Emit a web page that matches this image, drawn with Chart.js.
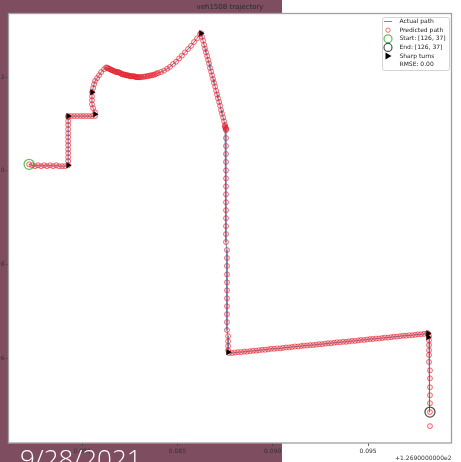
<!DOCTYPE html>
<html><head><meta charset="utf-8">
<script src="https://cdn.jsdelivr.net/npm/chart.js@4.4.1/dist/chart.umd.min.js"></script>
<style>
html,body{margin:0;padding:0;}
body{width:461px;height:462px;background:#7e4d60;position:relative;overflow:hidden;}
#white{position:absolute;left:282px;top:0;width:179px;height:462px;background:#fff;}
#c{position:absolute;left:0;top:0;}
#date{position:absolute;left:20px;top:445px;font:300 26px/26px "Open Sans",sans-serif;color:#fff;white-space:nowrap;}
</style></head><body>
<div id="white"></div>
<canvas id="c" width="461" height="462"></canvas>
<div id="date">9/28/2021</div>
<script>
// longitude offset from 126.9, latitude axis values (offset)
const pathX = [
0.07722,0.07738,0.07753,0.07769,0.07785,0.07801,0.07816,0.07832,0.07848,0.07864,0.07879,0.07895,0.07911,0.07927,
0.07927,0.07927,0.07927,0.07927,0.07927,0.07927,0.07927,0.07927,0.07927,0.07927,0.07927,0.07927,0.07927,
0.07942,0.07958,0.07974,0.07990,0.08005,0.08021,0.08037,0.08052,0.08068,
0.08068,0.08058,0.08052,0.08052,0.08052,0.08052,0.08058,0.08063,0.08068,0.08079,0.08089,0.08100,0.08115,
0.08126,0.08131,0.08136,0.08141,0.08147,0.08152,0.08157,0.08162,0.08168,0.08173,0.08178,0.08184,0.08189,0.08194,0.08199,0.08205,0.08210,0.08215,0.08220,0.08226,0.08231,0.08236,0.08241,0.08247,0.08252,0.08257,0.08262,0.08268,0.08273,0.08278,0.08283,0.08288,0.08294,0.08299,0.08304,
0.08312,0.08320,0.08328,0.08336,0.08344,0.08351,0.08359,0.08367,0.08375,0.08383,0.08391,0.08399,
0.08414,0.08430,0.08446,0.08461,0.08477,0.08493,0.08509,0.08524,0.08540,0.08556,0.08572,0.08587,0.08603,0.08619,0.08624,
0.08629,0.08635,0.08640,0.08645,0.08650,0.08656,0.08661,0.08666,0.08671,0.08677,0.08682,0.08687,0.08692,0.08698,0.08703,0.08708,0.08713,0.08719,0.08724,0.08729,0.08734,0.08740,0.08745,0.08750,
0.08750,0.08750,0.08755,0.08755,0.08755,
0.08755,0.08755,0.08755,0.08755,0.08755,0.08755,0.08755,0.08755,0.08755,0.08755,0.08755,0.08755,0.08755,0.08755,
0.08760,0.08760,0.08760,0.08760,0.08760,0.08760,0.08760,0.08760,0.08760,0.08760,0.08760,
0.08766,0.08766,0.08766,0.08766,
0.08771,
0.08787,0.08802,0.08818,0.08834,0.08850,0.08865,0.08881,0.08897,0.08913,0.08928,
0.08944,0.08960,0.08976,0.08991,0.09007,0.09023,0.09039,0.09054,0.09070,0.09086,
0.09101,0.09117,0.09133,0.09149,0.09164,0.09180,0.09196,0.09212,0.09227,0.09243,
0.09259,0.09275,0.09290,0.09306,0.09322,0.09337,0.09353,0.09369,0.09385,0.09400,
0.09416,0.09432,0.09448,0.09463,0.09479,0.09495,0.09511,0.09526,0.09542,0.09558,
0.09574,0.09589,0.09605,0.09621,0.09636,0.09652,0.09668,0.09684,0.09699,0.09715,
0.09731,0.09747,0.09762,0.09778,0.09794,0.09810,
0.09815,
0.09820,0.09820,0.09820,0.09820,0.09820,0.09820,0.09825,0.09825,0.09825,0.09825,0.09825,0.09825
];
const pathY = [
0.01014,0.01012,0.01010,0.01012,0.01010,0.01012,0.01010,0.01012,0.01010,0.01012,0.01010,0.01010,0.01010,0.01012,
0.01021,0.01029,0.01038,0.01046,0.01055,0.01063,0.01072,0.01080,0.01089,0.01098,0.01106,0.01115,0.01117,
0.01117,0.01117,0.01117,0.01117,0.01117,0.01117,0.01117,0.01117,0.01117,
0.01125,0.01134,0.01142,0.01151,0.01159,0.01168,0.01177,0.01185,0.01192,0.01198,0.01204,0.01211,0.01217,
0.01221,0.01220,0.01219,0.01218,0.01217,0.01216,0.01215,0.01214,0.01213,0.01212,0.01211,0.01211,0.01211,0.01210,0.01209,0.01208,0.01206,0.01206,0.01206,0.01205,0.01204,0.01204,0.01204,0.01203,0.01202,0.01202,0.01202,0.01202,0.01202,0.01201,0.01200,0.01200,0.01200,0.01200,0.01200,
0.01200,0.01201,0.01201,0.01202,0.01202,0.01203,0.01204,0.01204,0.01205,0.01206,0.01208,0.01209,
0.01211,0.01214,0.01218,0.01222,0.01228,0.01233,0.01240,0.01246,0.01253,0.01260,0.01267,0.01275,0.01283,0.01292,0.01294,
0.01286,0.01278,0.01269,0.01261,0.01253,0.01245,0.01237,0.01229,0.01220,0.01212,0.01204,0.01196,0.01188,0.01180,0.01171,0.01163,0.01155,0.01147,0.01139,0.01130,0.01122,0.01114,0.01106,0.01098,
0.01095,0.01093,0.01091,0.01089,0.01087,
0.01070,0.01053,0.01036,0.01019,0.01001,0.00984,0.00967,0.00950,0.00933,0.00916,0.00899,0.00882,0.00865,0.00848,
0.00831,0.00814,0.00797,0.00779,0.00762,0.00745,0.00728,0.00711,0.00694,0.00677,0.00660,
0.00647,0.00636,0.00626,0.00617,
0.00611,
0.00611,0.00612,0.00613,0.00613,0.00614,0.00614,0.00615,0.00616,0.00616,0.00617,
0.00618,0.00618,0.00619,0.00620,0.00620,0.00621,0.00621,0.00622,0.00623,0.00623,
0.00624,0.00625,0.00625,0.00626,0.00627,0.00627,0.00628,0.00628,0.00629,0.00630,
0.00630,0.00631,0.00632,0.00632,0.00633,0.00634,0.00634,0.00635,0.00635,0.00636,
0.00637,0.00637,0.00638,0.00639,0.00639,0.00640,0.00641,0.00641,0.00642,0.00642,
0.00643,0.00644,0.00644,0.00645,0.00646,0.00646,0.00647,0.00648,0.00648,0.00649,
0.00649,0.00650,0.00651,0.00651,0.00652,0.00653,
0.00653,
0.00647,0.00638,0.00628,0.00617,0.00607,0.00592,0.00574,0.00557,0.00538,0.00521,0.00504,0.00485
];
const predExtraX = [0.09825];
const predExtraY = [0.00455];
const startX = [0.07722], startY = [0.01014];
const endX = [0.09825], endY = [0.00485];
const turnX = [0.07927,0.07927,0.08068,0.08052,0.08624,0.08766,0.09815,0.09815];
const turnY = [0.01012,0.01117,0.01121,0.01168,0.01294,0.00613,0.00653,0.00645];
const xTicks = [0.080,0.085,0.090,0.095];
const yTicks = [0.006,0.008,0.010,0.012];
const xOffsetLabel = '+1.2690000000e2';
const chartTitle = 'veh1508 trajectory';
const rmseLabel = 'RMSE: 0.00';
const seriesLabels = ['Actual path','Predicted path','Start: [126, 37]','End: [126, 37]','Sharp turns'];

const pts = (xs, ys) => xs.slice(0, Math.min(xs.length, ys.length)).map((x, i) => ({x, y: ys[i]}));
const predX = pathX.concat(predExtraX), predY = pathY.concat(predExtraY);

const C_LINE = 'rgba(70,125,185,0.85)';
const C_PRED = 'rgba(235,25,35,0.6)';
const C_PRED_FILL = 'rgba(235,25,35,0.1)';
const C_START = 'rgba(40,170,40,0.75)';
const C_END = 'rgba(50,50,50,0.85)';

const deco = {
  id: 'deco',
  beforeDraw(chart) {
    const {ctx, chartArea: a} = chart;
    ctx.save();
    ctx.fillStyle = '#fff';
    ctx.fillRect(a.left, a.top, a.right - a.left, a.bottom - a.top);
    ctx.restore();
  },
  afterDraw(chart) {
    const {ctx, chartArea: a} = chart;
    ctx.save();
    ctx.strokeStyle = '#a0a0a0';
    ctx.lineWidth = 1.3;
    ctx.strokeRect(a.left, a.top, a.right - a.left, a.bottom - a.top);
    ctx.fillStyle = '#333';
    ctx.font = '6px "DejaVu Sans"';
    ctx.textAlign = 'right';
    ctx.textBaseline = 'middle';
    ctx.fillText(xOffsetLabel, a.right, 458);
    const lx = 382.5, ly = 17.5, lw = 67, lh = 53;
    ctx.fillStyle = 'rgba(255,255,255,0.9)';
    ctx.strokeStyle = '#d4d4d4';
    ctx.lineWidth = 1;
    ctx.beginPath();
    ctx.roundRect(lx, ly, lw, lh, 2);
    ctx.fill(); ctx.stroke();
    const rows = [21.5, 30.2, 38.8, 47.4, 56, 64.6];
    const hx = 388;
    ctx.strokeStyle = C_LINE; ctx.lineWidth = 1;
    ctx.beginPath(); ctx.moveTo(384, rows[0]); ctx.lineTo(392, rows[0]); ctx.stroke();
    ctx.strokeStyle = C_PRED; ctx.lineWidth = 1;
    ctx.beginPath(); ctx.arc(hx, rows[1], 2.2, 0, Math.PI * 2); ctx.stroke();
    ctx.strokeStyle = C_START; ctx.lineWidth = 1.2;
    ctx.beginPath(); ctx.arc(hx, rows[2], 4, 0, Math.PI * 2); ctx.stroke();
    ctx.strokeStyle = C_END; ctx.lineWidth = 1.2;
    ctx.beginPath(); ctx.arc(hx, rows[3], 4, 0, Math.PI * 2); ctx.stroke();
    ctx.fillStyle = '#000';
    ctx.beginPath(); ctx.moveTo(hx + 3.5, rows[4]); ctx.lineTo(hx - 2.5, rows[4] - 3.5); ctx.lineTo(hx - 2.5, rows[4] + 3.5); ctx.closePath(); ctx.fill();
    ctx.fillStyle = '#222';
    ctx.textAlign = 'left';
    const texts = seriesLabels.concat([rmseLabel]);
    texts.forEach((t, i) => ctx.fillText(t, 399.5, rows[i]));
    ctx.restore();
  }
};

new Chart(document.getElementById('c'), {
  type: 'scatter',
  data: {
    datasets: [
      {label: seriesLabels[0], data: pts(pathX, pathY), showLine: true, borderColor: C_LINE, borderWidth: 1, pointRadius: 0, order: 4},
      {label: seriesLabels[1], data: pts(predX, predY), showLine: false, pointStyle: 'circle', pointRadius: 2.5, pointBorderWidth: 1, pointBorderColor: C_PRED, pointBackgroundColor: C_PRED_FILL, order: 3},
      {label: seriesLabels[2], data: pts(startX, startY), pointRadius: 5, pointBorderWidth: 1.3, pointBorderColor: C_START, pointBackgroundColor: 'rgba(0,0,0,0)', order: 2},
      {label: seriesLabels[3], data: pts(endX, endY), pointRadius: 5, pointBorderWidth: 1.3, pointBorderColor: C_END, pointBackgroundColor: 'rgba(0,0,0,0)', order: 1},
      {label: seriesLabels[4], data: pts(turnX, turnY), pointStyle: 'triangle', rotation: 90, pointRadius: 3.5, pointBorderWidth: 0, pointBackgroundColor: '#000', pointBorderColor: '#000', order: 0}
    ]
  },
  options: {
    responsive: false,
    animation: false,
    devicePixelRatio: 1,
    layout: {padding: {left: 0, right: 9.5, top: 0, bottom: 0}},
    plugins: {
      legend: {display: false},
      tooltip: {enabled: false},
      title: {display: true, text: chartTitle, color: '#2a2a2a', fullSize: false,
        font: {family: 'DejaVu Sans', size: 7, weight: 'normal'}, padding: {top: 2.5, bottom: 2.6}}
    },
    scales: {
      x: {
        type: 'linear', min: 0.07614, max: 0.09938,
        afterFit(s) { s.height = 19; },
        afterBuildTicks(s) { s.ticks = xTicks.map(v => ({value: v})); },
        ticks: {callback: v => v.toFixed(3), color: '#333', font: {family: 'DejaVu Sans', size: 6}, padding: 2, maxRotation: 0, autoSkip: false},
        grid: {display: true, drawOnChartArea: false, drawTicks: true, tickLength: 3, color: '#444', tickWidth: 0.8},
        border: {display: false}
      },
      y: {
        type: 'linear', min: 0.00419, max: 0.01336,
        afterFit(s) { s.width = 8.5; },
        afterBuildTicks(s) { s.ticks = yTicks.map(v => ({value: v})); },
        ticks: {callback: v => v.toFixed(3), color: '#333', font: {family: 'DejaVu Sans', size: 6}, padding: 1, autoSkip: false},
        grid: {display: true, drawOnChartArea: false, drawTicks: true, tickLength: 3, color: '#444', tickWidth: 0.8},
        border: {display: false}
      }
    }
  },
  plugins: [deco]
});
</script>
</body></html>
